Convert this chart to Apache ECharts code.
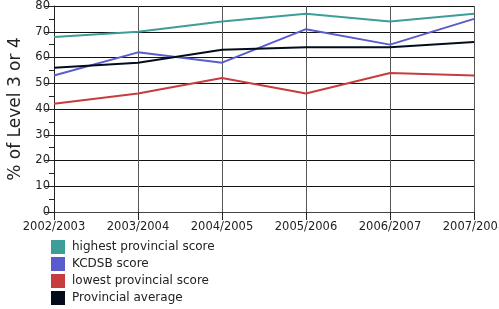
<!DOCTYPE html>
<html>
<head>
<meta charset="utf-8">
<script src="https://cdn.jsdelivr.net/npm/echarts@6/dist/echarts.min.js"></script>
<style>
  html, body { margin: 0; padding: 0; background: #fff; }
  #chart { width: 499px; height: 309px; }
</style>
</head>
<body>
<div id="chart"></div>
<script>
// school years on the x axis
const years = ['2002/2003', '2003/2004', '2004/2005', '2005/2006', '2006/2007', '2007/2008']
// % of students at level 3 or 4
const highestScore = [68, 70, 74, 77, 74, 77]
const kcdsbScore = [53, 62, 58, 71, 65, 75]
const lowestScore = [42, 46, 52, 46, 54, 53]
const provincialAvg = [56, 58, 63, 64, 64, 66]

const chart = echarts.init(document.getElementById('chart'))

function line(name, data, color) {
  return {
    name: name,
    type: 'line',
    data: data,
    symbol: 'none',
    lineStyle: { width: 2, color: color },
    itemStyle: { color: color }
  }
}

const option = {
  animation: false,
  textStyle: { fontFamily: 'DejaVu Sans' },
  grid: { left: 54, right: 25, top: 6, bottom: 97, containLabel: false, outerBoundsMode: 'none' },
  legend: {
    orient: 'vertical',
    left: 51,
    top: 240,
    padding: 0,
    height: 80,
    icon: 'rect',
    itemWidth: 14,
    itemHeight: 14,
    itemGap: 3,
    textStyle: { fontSize: 12, color: '#222', fontFamily: 'DejaVu Sans', padding: [0, 0, 0, 2] },
    data: ['highest provincial score', 'KCDSB score', 'lowest provincial score', 'Provincial average']
  },
  xAxis: {
    type: 'category',
    data: years,
    boundaryGap: false,
    axisLine: { lineStyle: { color: '#444', width: 1 } },
    axisTick: { show: true, length: 8, alignWithLabel: true, lineStyle: { color: '#222' } },
    axisLabel: { color: '#222', fontSize: 11.5, margin: 9, interval: 0 },
    splitLine: { show: true, lineStyle: { color: '#555', width: 1 } }
  },
  yAxis: {
    type: 'value',
    min: 0,
    max: 80,
    interval: 10,
    name: '% of Level 3 or 4',
    nameLocation: 'middle',
    nameRotate: 90,
    nameGap: 28,
    nameTextStyle: { fontSize: 17, color: '#222' },
    axisLine: { show: true, lineStyle: { color: '#222' } },
    axisTick: { show: true, length: 9, lineStyle: { color: '#222' } },
    minorTick: { show: true, splitNumber: 2, length: 5, lineStyle: { color: '#222' } },
    axisLabel: { color: '#222', fontSize: 11.5, margin: 4 },
    splitLine: { show: true, lineStyle: { color: '#111', width: 1 } }
  },
  series: [
    line('highest provincial score', highestScore, '#3d9e98'),
    line('KCDSB score', kcdsbScore, '#5a5ccc'),
    line('lowest provincial score', lowestScore, '#c73c3e'),
    line('Provincial average', provincialAvg, '#020c1c')
  ]
}

chart.setOption(option)
</script>
</body>
</html>
